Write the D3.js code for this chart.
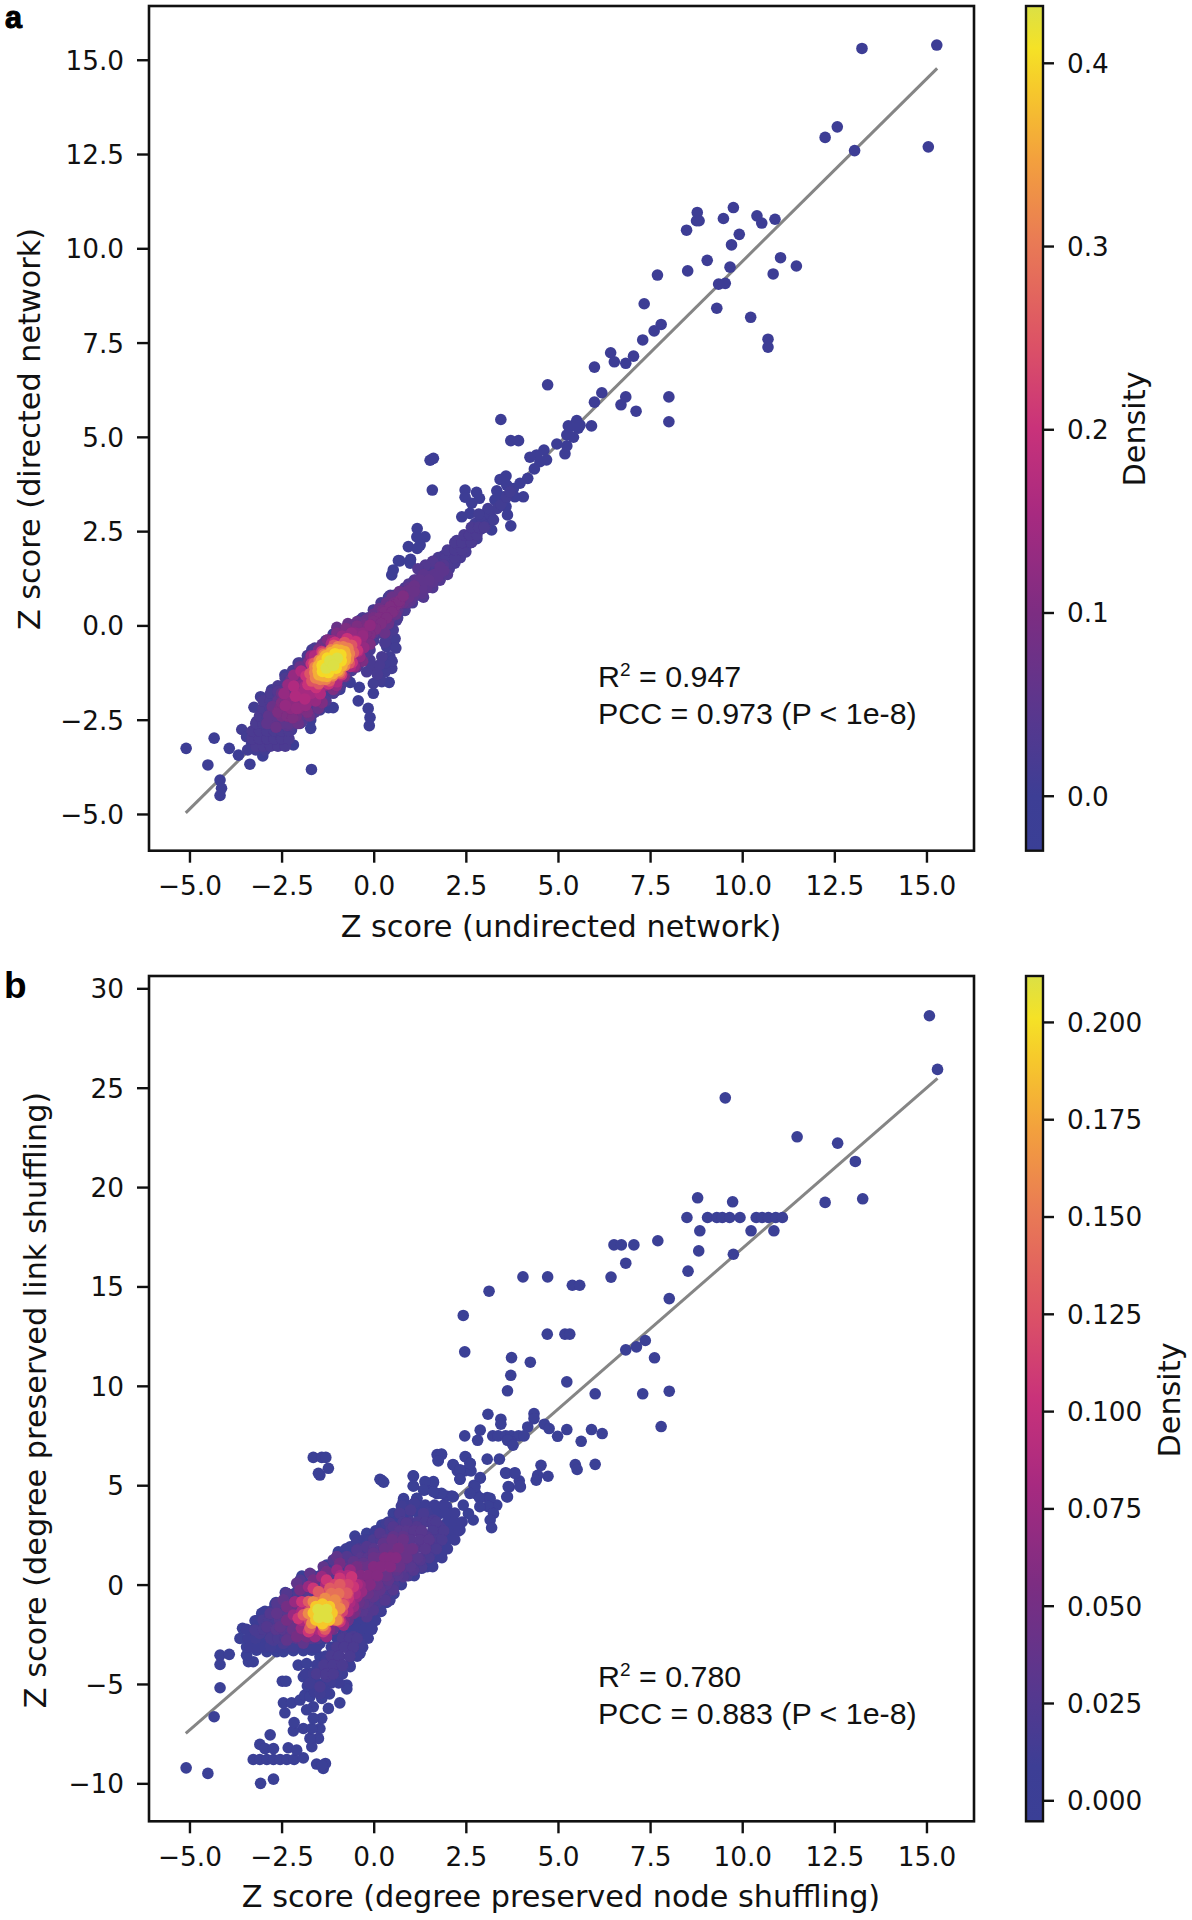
<!DOCTYPE html>
<html><head><meta charset="utf-8">
<script src="https://cdn.jsdelivr.net/npm/d3@7/dist/d3.min.js"></script>
<style>html,body{margin:0;padding:0;background:#fff}svg{display:block}</style></head>
<body><svg id="c" width="1192" height="1920"></svg>
<script>
// ---------- shared ticks and colour map ----------
const xTicks=[-5,-2.5,0,2.5,5,7.5,10,12.5,15];
const aYTicks=[-5,-2.5,0,2.5,5,7.5,10,12.5,15];
const bYTicks=[-10,-5,0,5,10,15,20,25,30];
const aBarTicks=[0,0.1,0.2,0.3,0.4];
const bBarTicks=[0,0.025,0.05,0.075,0.1,0.125,0.15,0.175,0.2];
const mapStops=[0,0.065,0.15,0.28,0.40,0.50,0.60,0.72,0.82,0.90,0.95,1];
const mapColors=["#3a3f96","#3d3e95","#55388f","#7c2d82","#a82a80","#c9327a","#dc5266","#e97a55","#f3a13d","#f6c82c","#f5e226","#dbe045"];

// rows below are written as [y, x, x, x, ...]
const fromRows=rows=>rows.flatMap(r=>r.slice(1).map(v=>[v,r[0]]));

// ---------- panel a ----------
const aFit=[[-5.10,-4.97],[15.29,14.77]];
const aSparse=[[15.28,15.39],[13.25,15.30],[15.05,12.69],[12.58,13.22],[12.25,12.94],[13.05,12.59],[9.76,11.08],[8.78,10.95],[8.83,10.73],[8.76,10.73],[8.49,10.48],[9.49,10.79],[10.40,10.86],[10.53,10.67],[10.89,10.77],[9.92,10.37],[9.71,10.09],[9.05,9.68],[8.52,9.40],[9.67,9.50],[11.04,9.75],[11.47,9.53],[10.84,9.32],[7.70,9.29],[9.36,9.05],[9.54,9.07],[9.31,8.41],[10.23,8.17],[7.34,8.53],[10.70,7.59],[10.70,7.38],[7.80,7.98],[7.61,7.81],[7.30,7.57],[6.43,7.23],[6.53,6.99],[6.84,6.95],[7.05,7.14],[5.99,6.85],[4.72,6.38],[6.19,6.17],[5.99,5.92],[6.84,6.06],[6.71,5.85],[7.12,5.68],[8.01,6.06],[8.01,5.40],[5.51,5.43],[5.28,5.29],[5.60,5.31],[5.91,5.29],[3.45,5.46],[3.72,4.90],[3.93,4.90],[1.62,4.43],[1.53,4.38],[1.59,3.59],[5.33,5.27],[5.55,5.23],[5.24,5.05],[5.42,4.99],[5.19,4.55],[5.24,4.76],[4.97,4.81],[4.62,4.65],[4.42,4.52],[4.24,4.46],[4.69,4.39],[4.51,4.34],[4.36,4.15],[4.18,3.90],[3.59,3.96],[3.43,3.87],[3.97,3.77],[3.79,3.63],[3.61,3.72],[3.34,3.57],[4.06,3.41],[3.83,3.41],[3.52,3.41],[3.29,3.33],[3.59,3.15],[3.63,2.93],[3.72,2.64],[3.20,2.53],[3.20,2.84],[2.98,2.93],[3.11,3.02],[2.48,3.59],[2.79,3.53],[2.48,3.40],[2.66,3.24],[2.87,3.37],[2.61,2.97],[2.39,2.88],[1.18,2.57],[1.39,2.35],[1.17,2.35],[1.26,2.13],[0.94,2.09],[1.00,1.75],[0.99,1.65],[0.71,1.71],[0.67,1.72],[0.53,1.47],[0.49,1.34],[1.18,2.04],[-5.09,-3.26],[-4.33,-2.99],[-3.92,-3.26],[-4.50,-3.70],[-4.17,-4.10],[-4.13,-4.32],[-4.17,-4.51],[-3.36,-3.68],[-3.67,-3.44],[-3.01,-3.46],[-2.18,-3.17],[-1.69,-3.82],[-1.71,-2.73],[-1.71,-2.51],[-0.12,-2.66],[-0.10,-2.44],[-0.15,-2.20],[-0.42,-2.00],[-0.39,-1.64],[-0.64,-1.51],[-1.10,-2.18],[-1.23,-2.18],[-0.92,-1.70],[0.42,-1.51],[-0.01,-1.80],[0.22,-1.49]];
const aD01=[[0.53,-0.47],[0.44,-0.83],[0.49,-1.14],[0.31,-1.23],[0.17,-1.45],[-0.01,-1.54],[0.35,-0.56],[0.58,-0.35],[0.6,-0.6],[0.5,-0.95],[0.3,-1.0],[-3.58,-2.76],[-3.25,-2.17],[-3.07,-1.89],[-2.77,-1.71],[-2.41,-1.31],[-2.05,-1.0],[-1.68,-0.65],[-1.1,-0.23],[-0.64,-0.08],[-0.37,0.14],[-0.01,0.41],[-3.18,-2.55],[-3.31,-3.13],[-2.72,-3.13],[-2.45,-3.13],[-2.23,-2.77],[-1.73,-2.33],[-1.46,-2.24],[-3.45,-2.95],[-3.2,-3.3],[-3.42,-3.3],[-2.95,-3.3],[0.4,0.75],[0.25,0.55],[2.5,2.1],[2.75,2.7],[2.45,2.3],[2.6,2.2],[2.9,2.55],[2.65,2.45],[2.8,2.3],[2.95,2.8],[3.05,2.65],[3.15,2.95],[3.25,2.8],[3.35,3.1],[3.1,3.1],[2.85,2.95],[3.45,3.2],[3.6,3.4],[3.7,3.55]];
const aD02=[[0.04,-1.18],[-0.19,-1.23],[0.22,-0.83],[0.15,-1.05],[-0.1,-1.0],[0.1,-1.3],[0.35,-0.25],[0.45,-0.05],[0.53,-0.12],[0.62,0.14],[0.3,-0.45],[-0.1,-0.65],[-0.1,-0.92],[-0.42,-1.05],[-3.1,-2.9],[-2.9,-3.0],[-2.6,-2.95],[-3.0,-2.65],[-2.8,-2.75],[-2.5,-2.75],[-2.95,-2.35],[-2.7,-2.45],[-2.85,-2.05],[2.0,1.7],[2.15,1.85],[2.3,2.0],[2.45,2.15],[2.05,1.5],[2.2,1.65],[2.35,1.8],[2.5,1.95],[2.1,2.0],[2.25,2.25],[1.9,1.85],[2.65,2.2]];
const aFill025=fromRows([[-3.2,-3.2,-3,-2.8,-2.6,-2.4],[-3,-3.3,-3.1,-2.9,-2.7,-2.5,-2.3],[-2.8,-3.3,-3.1,-2.9,-2.7,-2.5,-2.3],[-2.6,-3.2,-3,-2.8,-2.6,-2.4,-2.2,-2],[-2.4,-3.1,-2.9,-2.7,-1.9,-1.7],[-2.2,-3,-2.8,-1.7,-1.5],[-2,-3,-2.8,-1.5,-1.3],[-1.8,-2.8,-2.6,-1.3,-1.1],[-1.6,-2.6,-2.4,-1.05,-0.9],[-1.4,-2.4,-2.2,-0.9,-0.8],[-1.2,-2.2,-2.05,-0.7,-0.6],[-1,-2,-1.85,-0.55,-0.45],[-0.8,-1.8,-1.65,-0.4,-0.3],[-0.6,-1.6,-1.45,-0.25,-0.15],[-0.4,-1.3,-1.15,-0.1,0],[-0.2,-1,-0.85,0.05,0.15],[0,-0.6,-0.45,0.3,0.4],[0.2,-0.3,-0.15,0.55,0.65],[0.4,0,0.1,0.75,0.85],[0.6,0.2,0.3,0.95,1.05],[0.8,0.45,0.55,1.15,1.25],[1,0.85,1,1.15,1.3,1.45],[1.2,1.1,1.25,1.4,1.55,1.7],[1.4,1.3,1.45,1.6,1.75,1.85],[1.6,1.5,1.65,1.8,2],[1.8,1.75,1.95,2.2],[2,2,2.2,2.4],[2.2,2.2,2.4,2.65],[2.4,2.45,2.6,2.8],[2.6,2.65,2.85,3]]);
const aD035=[[-2.6,-1.75],[-2.3,-1.5],[-1.95,-1.2],[-1.6,-0.85],[-1.3,-0.55],[-0.95,-0.35],[-0.6,-0.25],[-0.3,-0.05],[-0.2,-0.45],[-0.25,-0.8],[-0.45,-1.1],[-0.75,-1.35],[-1.05,-1.75],[-1.3,-2.0],[-1.6,-2.3],[-1.95,-2.55],[-2.25,-2.65],[1.6,1.7],[1.4,1.6],[1.2,1.5],[0.95,1.1],[1.8,1.2],[1.6,1.0],[1.35,0.75],[1.9,1.6],[2.0,1.35]];
const aD05=[[1.2,1.0],[1.35,1.1],[1.5,1.3],[1.65,1.35],[1.8,1.55],[1.3,0.85],[1.45,1.0],[1.6,1.15],[1.75,1.3],[1.9,1.45],[1.15,1.2],[1.35,1.35],[1.0,0.65],[-2.85,-2.6],[-2.7,-2.3],[-2.55,-2.55],[-2.6,-2.05],[-2.45,-1.8],[-2.2,-2.45],[-2.35,-2.65]];
const aFill055=fromRows([[-2.6,-2.9,-2.7,-2.5,-2.3],[-2.4,-2.85,-2.65,-2],[-2.2,-2.75,-2.6,-1.85],[-2,-2.6,-2.45,-1.65],[-1.8,-2.5,-2.35,-1.45],[-1.6,-2.35,-2.2,-1.15],[-1.4,-2.2,-2.05,-1],[-1.2,-2,-1.9,-0.8],[-1,-1.8,-1.7,-0.65],[-0.8,-1.6,-1.5,-0.5],[-0.6,-1.35,-1.25,-0.3],[-0.4,-1.1,-1,-0.15],[-0.2,-0.8,-0.7,0],[0,-0.4,-0.3,0.2],[0.2,-0.1,0,0.45],[0.4,0.15,0.25,0.65],[0.6,0.4,0.55,0.75,0.9],[0.8,0.65,0.8,0.95,1.1],[1,0.95,1.1,1.3],[1.2,1.25,1.5]]);
const aD07=[[0.9,0.9],[1.0,0.95],[1.1,1.05],[0.8,0.6],[0.95,0.75],[1.1,0.9],[0.7,0.9],[0.5,0.75],[0.35,0.6],[0.15,0.45],[0,0.3],[-0.2,0.15],[-0.45,0.1],[-0.7,0.05],[-1.0,-0.05],[-1.4,-0.5],[-1.7,-0.8],[-2.0,-1.1],[-2.25,-1.45],[-2.5,-1.8],[-2.75,-2.15],[-2.65,-2.7],[-2.05,-2.6],[-1.75,-2.4],[-1.5,-2.2],[0.3,-0.2],[0.4,0.05],[0.6,0.3]];
const aFill09=fromRows([[-2.4,-2.5,-2.3,-2.1],[-2.2,-2.55,-2.35,-1.95],[-2,-2.4,-2.25,-1.75],[-1.8,-2.3,-2.15,-1.55],[-1.6,-2.15,-2.05,-1.25],[-1.4,-2,-1.9,-1.05],[-1.2,-1.85,-1.75,-0.9],[-1,-1.65,-1.6,-0.75],[-0.8,-1.45,-1.4,-0.6],[-0.6,-1.2,-0.4],[-0.4,-0.95,-0.25],[-0.2,-0.6,-0.1],[0,-0.25,-0.05,0.1],[0.2,0,0.2,0.35],[0.4,0.25,0.4,0.55],[0.6,0.55,0.7]]);
const aD10=[[0.6,0.55],[0.45,0.5],[0.3,0.35],[0.15,0.2],[0,0.1],[-0.15,-0.05],[0.5,0.35],[0.35,0.2],[0.2,0.05],[0.05,-0.1],[-0.1,-0.25],[0.7,0.65],[0.8,0.78],[-2.6,-2.3],[-2.5,-2.05],[-2.35,-2.4],[-2.0,-1.25],[-1.75,-0.95],[-1.5,-0.65],[-1.25,-0.38],[-1,-0.2],[-0.75,-0.08],[-0.45,-0.02],[-0.2,-0.2],[-0.1,-0.5],[-0.3,-0.95],[-0.5,-1.1],[-0.8,-1.35],[-1.1,-1.7],[-1.4,-2.05],[-1.8,-2.3],[-2.2,-2.45]];
const aFill13=fromRows([[-2.2,-2.25,-2.05],[-2,-2.25,-2.05,-1.85],[-1.8,-2.1,-1.9,-1.6],[-1.6,-2,-1.85,-1.35],[-1.4,-1.85,-1.1],[-1.2,-1.7,-0.95],[-1,-1.55,-0.8],[-0.8,-1.35,-0.65],[-0.6,-1.1,-0.9,-0.5],[-0.4,-0.8,-0.6,-0.35],[-0.2,-0.5,-0.3],[0,-0.1]]);
const aD14=[[-0.30,-0.276],[-2.40,-2.124],[-1.693,-0.81],[-1.007,-1.59],[-0.607,-0.201],[-0.267,-0.591],[-2.433,-1.809],[-2.093,-2.199],[-1.123,-0.399],[-0.527,-1.077],[-2.173,-1.323],[-1.577,-2.001],[-0.855,-0.28],[-0.375,-0.826],[-2.325,-1.574],[-1.845,-2.12]];
const aFill17=fromRows([[-1.8,-1.95,-1.7],[-1.6,-1.85,-1.65,-1.4],[-1.4,-1.75,-1.15],[-1.2,-1.6,-1],[-1,-1.45,-0.85],[-0.8,-1.25,-0.7],[-0.6,-1.05,-0.85,-0.6],[-0.4,-0.75,-0.55]]);
const aD18=[[-0.475,-0.424],[-2.125,-1.876],[-1.6,-0.805],[-1.0,-1.495],[-0.73,-0.35],[-0.43,-0.69],[-2.17,-1.61],[-1.87,-1.95],[-1.15,-0.487],[-0.63,-1.087],[-1.97,-1.213],[-1.45,-1.813]];
const aD22=[[-0.495,-0.432],[-1.785,-1.568],[-1.41,-0.69],[-0.87,-1.31],[-0.715,-0.352],[-0.445,-0.66],[-1.835,-1.34],[-1.565,-1.648],[-1.055,-0.449],[-0.585,-0.984],[-1.695,-1.017],[-1.225,-1.55],[-1.6,-1.3],[-1.45,-1.15],[-1.3,-1.0],[-1.15,-0.8],[-0.95,-0.65],[-0.75,-0.55]];
const aD27=[[-0.60,-0.525],[-1.68,-1.475],[-1.38,-0.73],[-0.90,-1.27],[-0.79,-0.452],[-0.55,-0.722],[-1.73,-1.278],[-1.49,-1.548],[-1.079,-0.528],[-0.661,-0.998],[-1.619,-1.003],[-1.201,-1.473]];
const aD32=[[-0.70,-0.61],[-1.58,-1.39],[-1.345,-0.77],[-0.935,-1.23],[-0.975,-0.567],[-0.685,-0.893],[-1.595,-1.107],[-1.305,-1.433],[-0.66,-0.75],[-0.79,-1.07],[-1.11,-1.34],[-1.45,-1.43],[-1.6,-1.25],[-1.48,-0.92],[-1.16,-0.65],[-0.83,-0.57]];
const aD36=[[-0.79,-0.69],[-1.49,-1.31],[-1.31,-0.805],[-0.97,-1.195],[-1.013,-0.646],[-0.773,-0.92],[-1.507,-1.08],[-1.267,-1.354],[-0.76,-0.8],[-0.86,-1.07],[-1.11,-1.28],[-1.38,-1.34],[-1.51,-1.2],[-1.42,-0.93],[-1.16,-0.72],[-0.9,-0.66]];
const aD40=[[-0.89,-0.78],[-1.39,-1.22],[-1.26,-0.865],[-1.02,-1.135],[-1.05,-0.75],[-0.88,-0.94],[-1.40,-1.06],[-1.23,-1.25]];
const aD43=[[-1.14,-1.0],[-0.99,-0.87],[-1.29,-1.13],[-1.19,-0.94],[-1.09,-1.06]];
const aLayers=[aSparse,aD01,aD02,aFill025,aD035,aD05,aFill055,aD07,aFill09,aD10,aFill13,aD14,aFill17,aD18,aD22,aD27,aD32,aD36,aD40,aD43];
const aLayerDensity=[0,0.01,0.02,0.025,0.035,0.05,0.055,0.07,0.09,0.10,0.12,0.13,0.15,0.165,0.20,0.25,0.31,0.36,0.40,0.43];

// ---------- panel b ----------
const bFit=[[-5.10,-7.49],[15.30,25.47]];
const bSparse=[[15.08,28.62],[15.30,25.92],[9.54,24.49],[11.49,22.53],[12.59,22.21],[13.07,21.29],[12.25,19.23],[13.27,19.41],[8.79,19.46],[9.74,19.26],[8.50,18.47],[9.06,18.47],[9.31,18.47],[9.46,18.47],[9.66,18.47],[9.94,18.47],[10.38,18.47],[10.54,18.47],[10.71,18.47],[10.91,18.47],[11.09,18.47],[8.85,17.80],[10.24,17.80],[10.86,17.80],[8.82,16.79],[9.76,16.62],[8.53,15.77],[7.71,17.30],[6.52,17.09],[6.72,17.09],[7.06,17.09],[6.84,16.17],[6.44,15.47],[4.05,15.48],[4.72,15.48],[5.39,15.06],[5.59,15.06],[3.13,14.76],[2.43,13.54],[8.02,14.39],[2.47,11.71],[4.71,12.60],[5.19,12.60],[5.32,12.60],[6.84,11.81],[7.13,11.96],[7.37,12.28],[7.62,11.41],[3.74,11.42],[4.25,11.19],[3.72,10.53],[3.63,9.75],[5.24,10.20],[6.01,9.60],[7.30,9.60],[8.02,9.73],[7.80,7.95],[3.10,8.57],[3.45,8.32],[3.45,8.07],[4.35,8.60],[4.35,8.35],[4.18,7.93],[4.63,8.07],[4.76,7.85],[5.24,7.80],[5.91,7.80],[6.20,7.60],[4.99,7.46],[5.63,7.21],[2.89,7.77],[2.47,7.48],[2.82,7.26],[3.23,7.48],[3.38,7.48],[3.58,7.48],[3.73,7.48],[3.93,7.48],[4.08,7.48],[3.73,7.18],[3.63,7.26],[3.78,7.01],[1.72,6.54],[1.84,6.54],[1.75,6.26],[2.50,6.42],[2.62,6.09],[2.15,6.04],[3.08,6.31],[3.41,6.31],[2.27,5.72],[2.47,5.72],[2.64,5.72],[2.34,5.30],[2.89,5.38],[4.54,6.00],[5.47,6.04],[5.52,5.79],[6.01,6.05],[3.58,5.63],[3.83,5.63],[3.95,5.22],[3.98,4.91],[3.68,4.91],[4.73,5.45],[4.45,5.50],[4.41,5.25],[1.07,5.47],[1.07,4.96],[1.42,5.13],[1.62,5.13],[1.37,4.75],[1.57,4.83],[1.72,4.58],[1.97,4.46],[2.12,4.46],[2.72,5.0],[2.77,4.58],[3.08,4.38],[2.87,4.38],[3.63,4.41],[1.17,4.33],[0.81,4.33],[3.34,4.0],[3.16,4.34],[3.11,3.92],[3.25,3.58],[3.16,3.25],[3.2,2.86],[2.88,3.92],[2.7,3.25],[2.57,3.58],[2.34,2.75],[2.16,2.91],[2.43,4.0],[2.16,4.42],[1.84,4.59],[1.62,5.18],[1.39,5.18],[1.08,5.46],[1.08,4.96],[1.35,4.76],[1.62,4.67],[1.75,6.52],[1.84,6.57],[1.75,6.22],[2.16,6.02],[2.48,6.44],[2.61,6.1],[2.34,5.77],[2.34,5.3],[2.89,5.35],[2.75,4.93],[2.61,4.59],[3.59,5.6],[3.83,5.6],[3.65,4.93],[3.61,4.42],[3.97,4.96],[0.22,5.23],[0.17,5.3],[0.27,5.15],[-1.64,6.40],[-1.41,6.40],[-1.30,6.40],[-1.23,5.85],[-1.46,5.51],[-1.5,5.6],[-5.09,-9.22],[-4.50,-9.50],[-3.07,-10.0],[-2.72,-9.79],[-1.37,-9.25],[-1.55,-9.03],[-1.31,-9.0],[-1.41,-9.1],[-3.27,-8.80],[-3.09,-8.80],[-2.90,-8.80],[-2.72,-8.80],[-2.54,-8.80],[-2.36,-8.80],[-2.16,-8.80],[-1.91,-8.72],[-3.09,-8.04],[-2.95,-8.25],[-2.72,-8.25],[-2.81,-7.56],[-2.32,-8.21],[-2.09,-8.33],[-1.68,-8.16],[-1.50,-7.74],[-1.73,-7.74],[-1.91,-7.24],[-1.46,-7.24],[-1.68,-7.24],[-2.18,-7.36],[-2.16,-6.94],[-2.41,-6.45],[-2.45,-5.95],[-2.23,-5.95],[-2.00,-5.81],[-1.87,-5.56],[-1.64,-6.15],[-1.41,-6.73],[-1.64,-6.73],[-1.82,-6.3],[-1.23,-6.23],[-0.92,-5.95],[-1.41,-5.73],[-1.73,-5.64],[-4.33,-6.65],[-4.17,-5.19],[-2.48,-4.86],[-2.38,-4.86],[-0.73,-5.06],[-0.73,-5.25],[-4.17,-4.02],[-4.17,-3.55],[-3.92,-3.51],[-3.40,-3.88],[-3.27,-3.88],[-3.45,-3.55],[-3.45,-3.13],[-3.63,-2.71],[-3.56,-2.2],[-3.22,-1.82],[-3.04,-1.45],[-2.68,-0.98],[-2.05,-4.05],[-1.82,-3.97],[-1.95,0.43],[-1.64,0.31],[-1.28,0.98],[-0.96,1.65],[-0.64,1.9],[-0.51,2.44],[-0.19,2.58],[0.22,3.0],[0.53,3.58],[0.80,4.17],[1.17,4.34],[-2.63,-3.38],[-2.45,-3.38],[-2.18,-3.33],[-1.91,-3.33],[-1.68,-3.3],[-2.9,-3.38],[-3.18,-3.3],[-3.36,-2.79],[-1.46,-2.96],[-1.19,-2.37],[-1.46,-3.63],[-1.41,-3.97],[-1.55,-4.3],[-1.73,-4.47],[-1.91,-4.64],[-1.55,-5.0],[-1.8,-5.1],[-1.2,-5.5],[1.8,3.58],[1.98,3.92],[2.12,3.58],[2.02,2.41],[1.93,1.91],[1.84,1.57],[-0.05,-2.2],[-0.37,-3.46],[-0.64,-4.13],[-0.92,-4.55],[-0.28,-2.12],[-0.46,-2.04],[-0.1,-2.2],[-0.55,-1.78],[-0.37,-1.62],[-0.19,-1.78]];
const bFill012=fromRows([[4.0,0.9,1.15,1.4,1.65,1.9],[3.6,0.7,0.95,1.2,1.45,1.7,1.95,2.2],[3.15,0.4,0.6,2.0,2.2,2.4],[2.7,0.05,0.25,2.1,2.3],[2.25,-0.45,-0.25,-0.05,2.0,2.2],[1.8,-0.75,-0.55,1.85,2.0],[1.35,-1,-0.8,1.65,1.85],[0.9,-1.3,-1.1,1.45,1.6],[0.45,-1.65,-1.45,0.95,1.1],[0,-2,-1.8,0.6,0.75],[-0.45,-2.35,-2.15,0.4,0.55],[-0.9,-2.65,-2.45,0.2,0.35],[-1.35,-2.95,-2.75,0.05,0.2],[-1.8,-3.15,-2.95,-0.5,-0.3,-0.1,0.05],[-2.25,-3.45,-3.25,-3.05,-0.85,-0.65,-0.45,-0.25,-0.05],[-2.7,-3.4,-3.2,-3,-1.3,-1.0,-0.35,-0.15],[-3.15,-3.35,-3.15,-2.95,-2.75,-2.55,-2.35,-2.15,-1.95,-1.75,-1.55,-1.15,-0.5,-0.3],[-3.6,-1.3,-1.1,-0.65,-0.45],[-4.05,-1.55,-1.35,-0.85,-0.65],[-4.5,-1.85,-1.65,-1.05,-0.85],[-4.95,-1.75,-1.55,-1.35,-1.15,-0.95],[-5.4,-1.6,-1.45,-1.3]]);
const bD02=[[-0.55,-3.13],[-0.37,-2.96],[-0.64,-3.63],[-0.82,-4.13],[-1.0,-4.47],[-1.18,-4.81],[-1.46,-4.3],[-1.28,-3.8],[-1.1,-3.3],[-1.64,-4.47],[-1.73,-4.97],[-1.46,-5.48],[1.62,2.07],[1.53,1.49],[1.3,0.82],[0.99,0.65],[0.67,0.14],[0.44,-0.78],[0.17,-1.28],[1.62,2.9],[1.45,3.6],[1.1,4.1],[0.75,3.95],[0.35,3.08],[-0.1,2.2],[-0.5,2.0],[-1.0,1.4],[-1.35,0.8],[-1.9,0.1],[-2.4,-0.4],[-2.75,-1.3],[-3.0,-2.2],[-3.2,-2.7],[-2.8,-3.1],[-2.2,-3.1]];
const bD03=[[1.8,2.41],[1.62,3.25],[1.35,3.58],[1.0,3.75],[0.71,3.58],[0.44,3.08],[1.8,2.91],[1.62,1.91],[1.44,1.4],[1.17,0.9],[-0.55,-2.62],[-0.73,-3.13],[-0.92,-3.63],[-1.1,-4.13],[-1.28,-4.64],[-1.46,-5.14],[-0.82,-2.62],[-3.09,-2.46],[-3.0,-1.79],[-3.22,-2.29],[-2.72,-2.79],[-2.45,-2.96]];
const bFill03=fromRows([[3.15,0.8,1,1.2,1.4,1.6,1.7],[2.7,0.45,0.65,1.6,1.9],[2.25,0,0.2,1.6,1.85],[1.8,-0.4,-0.2,1.5,1.7],[1.35,-0.7,-0.5,1.3,1.5],[0.9,-1,-0.8,1.1,1.3],[0.45,-1.35,-1.15,0.75,0.9],[0,-1.7,-1.5,0.4,0.55],[-0.45,-2.05,-1.85,0.2,0.35],[-0.9,-2.35,-2.15,-0.05,0.1],[-1.35,-2.65,-2.45,-0.25,-0.1],[-1.8,-2.85,-2.65,-0.7],[-2.25,-3,-2.8,-1.3],[-2.7,-2.8,-2.6,-2.4,-1.65,-1.5],[-2.7,-0.85,-0.65,-0.45],[-3.15,-1,-0.8,-0.55],[-3.6,-1.15,-0.95,-0.65],[-4.05,-1.35,-1.1,-0.85],[-4.5,-1.55,-1.3,-1.1]]);
const bD04=[[1.26,1.91],[1.44,2.41],[1.17,2.91],[0.89,3.08],[0.53,2.91],[0.17,2.58],[-0.19,1.91],[-0.46,1.74],[-0.73,1.41],[-1.1,1.24],[1.26,1.24],[1.08,0.73],[0.80,0.4],[0.53,-0.27],[0.31,-0.78],[-0.01,-1.28],[-0.19,-1.62],[-2.9,-2.12],[-2.81,-1.45],[-2.63,-0.95],[-2.36,-0.44],[-2.0,0.23]];
const bFill05=fromRows([[2.7,0.7,0.9,1.1,1.3],[2.25,0.35,0.55,1,1.25,1.5],[1.8,0,0.2,1.1,1.4],[1.35,-0.35,-0.15,1,1.2],[0.9,-0.65,-0.45,0.85,1],[0.45,-1,-0.8,0.5,0.65],[0,-1.4,-1.2,0.2,0.35],[-0.45,-1.75,-1.55,0,0.1],[-0.9,-2.05,-1.85,-0.25,-0.15],[-1.35,-2.35,-2.15,-0.4,-0.3],[-1.8,-2.55,-2.35,-0.7],[-2.25,-2.65,-2.45,-2.25,-1.3],[-2.7,-2.3,-2.1,-1.9,-1.7]]);
const bD055=[[0.89,1.74],[0.80,2.41],[0.53,2.41],[0.26,2.07],[-0.01,1.57],[-0.28,1.07],[-0.55,1.15],[0.80,1.24],[0.62,0.74],[0.40,0.23],[0.17,-0.27],[-0.01,-0.61],[-0.28,-0.95],[-2.54,-2.12],[-2.63,-1.45],[-2.45,-0.77],[-2.09,0.07],[-1.73,0.57],[-1.37,0.9],[-1.0,1.41],[-2.36,-2.79],[-1.91,-2.95]];
const bFill075=fromRows([[2.25,0.5,0.8],[1.8,0.3,0.5,0.85,1.05],[1.35,0,0.2,0.75,0.9],[0.9,-0.35,-0.15,0.55,0.7],[0.45,-0.7,-0.5,0.2,0.35],[0,-1.15,-0.95,0,0.1],[-0.45,-1.5,-1.3,-0.25,-0.15],[-0.9,-1.8,-1.65,-0.45,-0.4],[-1.35,-2.1,-1.95,-0.55,-0.5],[-1.8,-2.25,-2.1,-0.7],[-2.25,-2.2,-2,-1.1]]);
const bD075=[[0.53,1.49],[0.35,1.23],[0.67,1.82],[0.17,0.9],[-0.01,0.56],[-0.19,0.23],[-0.46,0.9],[-0.19,-0.11],[-2.36,-1.79],[-2.36,-1.11],[-2.0,-0.27],[-1.64,0.23],[-1.28,0.65],[-0.92,1.07],[-1.82,-2.62],[-2.09,-2.62],[-0.55,-1.45]];
const bFill095=fromRows([[1.35,0.3,0.45,0.6],[0.9,0,0.2,0.45],[0.45,-0.35,-0.15,0.1],[0,-0.85,-0.65,-0.1],[-0.45,-1.3,-1.15,-0.4],[-0.9,-1.6,-1.45,-0.55],[-1.35,-1.85,-1.7,-0.65],[-1.8,-2,-1.85,-0.8],[-2.25,-1.9,-1.7,-1.2]]);
const bD10=[[-0.37,-0.02],[-0.33,-0.36],[-0.46,-0.61],[-0.55,-1.11],[-0.82,-2.04],[-1.59,-2.62],[-1.28,-2.62],[-1.96,-2.2],[-2.18,-1.53],[-2.14,-0.86],[-1.77,-0.1],[-1.41,0.4],[-1.0,0.73],[-0.64,0.73]];
const bFill12=fromRows([[0.45,-0.9,-0.7],[0,-1.3,-1.1,-0.45],[-0.45,-1.5,-1.35,-0.5],[-0.9,-1.8,-1.65,-0.65],[-1.35,-1.95,-1.8,-0.7],[-1.8,-1.95,-1.8,-0.9],[-2.25,-1.7,-1.5,-1.3]]);
const bD13=[[-0.92,0.31],[-0.60,0.39],[-0.55,-0.11],[-0.69,-0.69],[-0.92,-1.87],[-1.37,-2.37],[-1.77,-2.37],[-2.05,-1.70],[-1.95,-0.86],[-1.64,-0.19],[-1.28,0.23]];
const bFill14=fromRows([[0,-1.05,-0.85,-0.7],[-0.45,-1.3,-1.1,-0.7],[-0.9,-1.6,-1.45,-0.8],[-1.35,-1.75,-0.85],[-1.8,-1.75,-1.05]]);
const bD15=[[-1.19,-0.19],[-0.92,0.0],[-0.73,-0.43],[-0.82,-1.02],[-0.96,-1.78],[-1.32,-2.24],[-1.73,-2.19],[-1.91,-1.52],[-1.77,-0.85],[-1.50,-0.35]];
const bFill165=fromRows([[-0.45,-1.15,-0.95],[-0.9,-1.5,-1.25,-1],[-1.35,-1.6,-1],[-1.8,-1.55,-1.2]]);
const bD17=[[-1.32,-0.69],[-1.05,-0.78],[-0.92,-1.2],[-1.0,-1.78],[-1.37,-2.07],[-1.68,-1.94],[-1.77,-1.45],[-1.64,-0.86]];
const bD19=[[-1.39,-0.98],[-1.13,-1.42],[-1.39,-1.97],[-1.64,-1.42],[-1.20,-1.11],[-1.20,-1.78],[-1.57,-1.78],[-1.57,-1.11]];
const bD205=[[-1.39,-1.45],[-1.49,-1.65],[-1.28,-1.25],[-1.26,-1.65],[-1.51,-1.25]];
const bLayers=[bSparse,bFill012,bD02,bD03,bFill03,bD04,bFill05,bD055,bFill075,bD075,bFill095,bD10,bFill12,bD13,bFill14,bD15,bFill165,bD17,bD19,bD205];
const bLayerDensity=[0,0.008,0.012,0.018,0.02,0.026,0.03,0.036,0.043,0.05,0.06,0.072,0.085,0.105,0.115,0.13,0.145,0.16,0.19,0.21];

// ---------- text ----------
const aXLabel="Z score (undirected network)", aYLabel="Z score (directed network)";
const bXLabel="Z score (degree preserved node shuffling)", bYLabel="Z score (degree preserved link shuffling)";
const aStats=["0.947","PCC = 0.973 (P < 1e-8)"], bStats=["0.780","PCC = 0.883 (P < 1e-8)"];

const svg=d3.select("#c");
const sans="'DejaVu Sans',sans-serif", arial="'Liberation Sans',Arial,sans-serif", FS=26.3, LS=30.3;
const defs=svg.append("defs");
defs.append("filter").attr("id","soft").attr("filterUnits","userSpaceOnUse").attr("x",0).attr("y",0).attr("width",1192).attr("height",1920)
  .append("feGaussianBlur").attr("stdDeviation",0.7);

function panel(o){
  const x=d3.scaleLinear().domain([-6.098,16.29]).range([149,974]);
  const y=d3.scaleLinear().domain(o.yDomain).range([o.bottom,o.top]);
  const g=svg.append("g");
  g.append("line").attr("x1",x(o.fit[0][0])).attr("y1",y(o.fit[0][1])).attr("x2",x(o.fit[1][0])).attr("y2",y(o.fit[1][1]))
    .attr("stroke","#858585").attr("stroke-width",3);
  const top=o.barDomain[1],bot=o.barDomain[0];
  const col=d3.scaleLinear().domain(mapStops.map(t=>bot+t*(top-bot))).range(mapColors).clamp(true);
  const pts=o.layers.flatMap((l,i)=>l.map(p=>({x:p[0],y:p[1],d:o.density[i]})));
  g.append("g").attr("filter","url(#soft)").selectAll("circle").data(pts).join("circle")
    .attr("cx",d=>x(d.x)).attr("cy",d=>y(d.y)).attr("r",5.8).attr("fill",d=>col(d.d));
  g.append("rect").attr("x",149).attr("y",o.top).attr("width",825).attr("height",o.bottom-o.top)
    .attr("fill","none").attr("stroke","#111").attr("stroke-width",2.6);
  const style=s=>{s.select(".domain").remove();
    s.selectAll(".tick line").attr("stroke","#111").attr("stroke-width",2.4);
    s.selectAll("text").attr("font-family",sans).attr("font-size",FS).attr("fill","#111");};
  svg.append("g").attr("transform",`translate(0,${o.bottom})`)
    .call(d3.axisBottom(x).tickValues(xTicks).tickSize(12).tickPadding(14).tickFormat(d3.format(".1f"))).call(style);
  const ya=svg.append("g").attr("transform","translate(149,0)")
    .call(d3.axisLeft(y).tickValues(o.yTicks).tickSize(12).tickPadding(13).tickFormat(d3.format(o.yFmt))).call(style);
  ya.selectAll("text").attr("dy","0.36em");
  svg.append("text").attr("x",o.xLabelX).attr("y",o.bottom+86).attr("text-anchor","middle")
    .attr("font-family",sans).attr("font-size",LS).attr("fill","#111").text(o.xLabel);
  svg.append("text").attr("transform",`translate(${o.yLabelX},${o.yLabelY}) rotate(-90)`).attr("text-anchor","middle")
    .attr("font-family",sans).attr("font-size",LS).attr("fill","#111").text(o.yLabel);
  const t=svg.append("text").attr("x",598).attr("y",o.statY).attr("font-family",arial).attr("font-size",30.4).attr("fill","#111");
  t.append("tspan").text("R");
  t.append("tspan").attr("dy",-11).attr("font-size",19).text("2");
  t.append("tspan").attr("dy",11).text(" = "+o.stats[0]);
  svg.append("text").attr("x",598).attr("y",o.statY+37).attr("font-family",arial).attr("font-size",30.4).attr("fill","#111").text(o.stats[1]);
  svg.append("text").attr("x",o.letterX).attr("y",o.letterY).attr("font-family",arial).attr("font-weight","bold")
    .attr("font-size",o.letterSize).attr("stroke","#000").attr("stroke-width",o.letterStroke).attr("fill","#000").text(o.letter);
  const cb=d3.scaleLinear().domain(o.barDomain).range([o.bottom,o.top]);
  const grad=defs.append("linearGradient").attr("id","g"+o.letter).attr("x1",0).attr("x2",0).attr("y1",1).attr("y2",0);
  mapStops.forEach((s,i)=>grad.append("stop").attr("offset",s).attr("stop-color",mapColors[i]));
  svg.append("rect").attr("x",1026).attr("y",o.top).attr("width",17).attr("height",o.bottom-o.top)
    .attr("fill",`url(#g${o.letter})`).attr("stroke","#111").attr("stroke-width",2.4);
  const ca=svg.append("g").attr("transform","translate(1043,0)")
    .call(d3.axisRight(cb).tickValues(o.barTicks).tickSize(11).tickPadding(13).tickFormat(d3.format(o.barFmt))).call(style);
  ca.selectAll("text").attr("dy","0.36em");
  svg.append("text").attr("transform",`translate(${o.barLabelX},${o.yLabelY}) rotate(-90)`).attr("text-anchor","middle")
    .attr("font-family",sans).attr("font-size",LS).attr("fill","#111").text("Density");
}
panel({letter:"a",letterX:5,letterY:28,letterSize:30.5,letterStroke:1,statY:687,top:6,bottom:850.7,yDomain:[-5.974,16.425],fit:aFit,layers:aLayers,density:aLayerDensity,yTicks:aYTicks,yFmt:".1f",
  barDomain:[-0.03,0.431],barTicks:aBarTicks,barFmt:".1f",xLabel:aXLabel,yLabel:aYLabel,xLabelX:561,yLabelX:40,yLabelY:429,barLabelX:1145,stats:aStats});
panel({letter:"b",letterX:4,letterY:998,letterSize:37,letterStroke:0,statY:1687,top:976,bottom:1821.3,yDomain:[-11.91,30.62],fit:bFit,layers:bLayers,density:bLayerDensity,yTicks:bYTicks,yFmt:"d",
  barDomain:[-0.0054,0.2118],barTicks:bBarTicks,barFmt:".3f",xLabel:bXLabel,yLabel:bYLabel,xLabelX:561,yLabelX:46,yLabelY:1400,barLabelX:1180,stats:bStats});
</script></body></html>
